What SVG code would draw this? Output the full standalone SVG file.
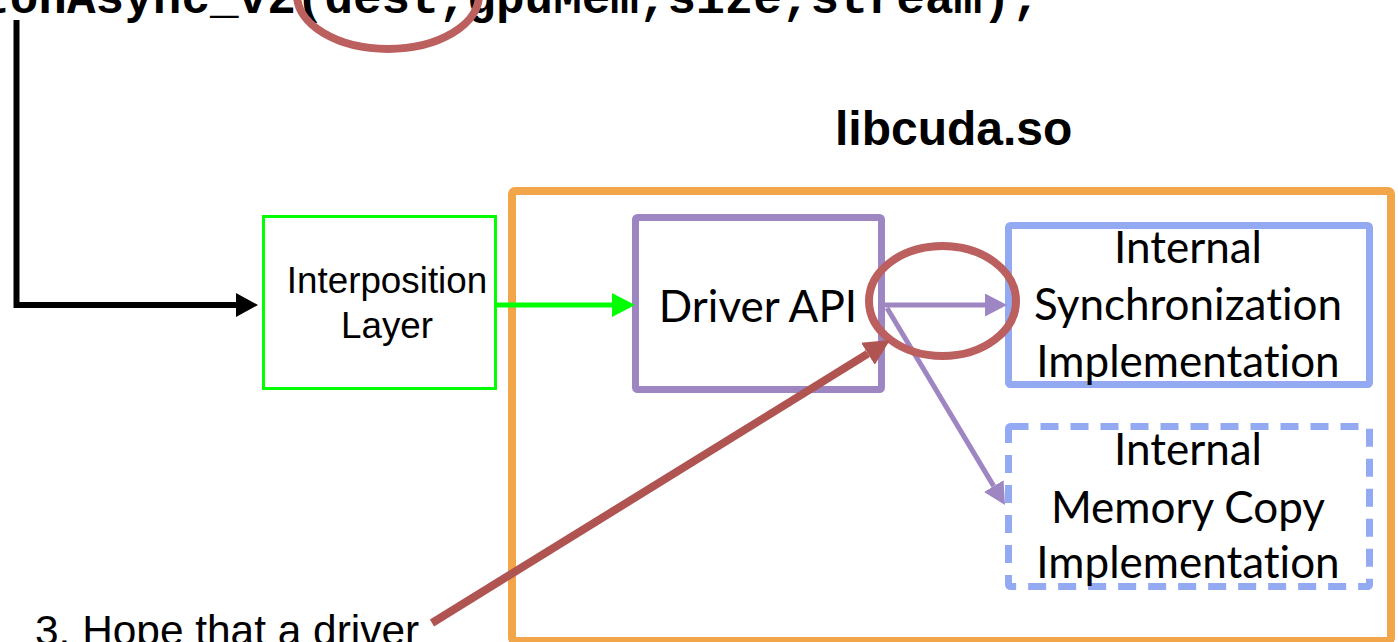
<svg xmlns="http://www.w3.org/2000/svg" width="1398" height="642" viewBox="0 0 1398 642">
  <style>
    .code { font-family: "Liberation Mono", "Courier New", monospace; font-weight: bold; font-size: 47.67px; fill: #000; }
    .sans { font-family: "Liberation Sans", Arial, sans-serif; fill: #000; }
    .humanist { font-family: Lato, "Open Sans", sans-serif; font-size: 44px; fill: #000; text-anchor: middle; font-variant-ligatures: none; }
    .box { fill: #fff; }
    .lib { fill: none; stroke: #F3A54A; stroke-width: 8; }
    .api { stroke: #9E86C2; stroke-width: 7; }
    .impl { stroke: #93A9F2; stroke-width: 7; }
    .dashed { stroke-dasharray: 18 12; }
    .shim { stroke: #00FF00; stroke-width: 3; }
    .note { fill: none; stroke: #BB5F5F; stroke-width: 8; }
  </style>
  <defs>
    <marker id="head-black" markerUnits="userSpaceOnUse" viewBox="0 0 22 24" markerWidth="22" markerHeight="24" refX="0" refY="12" orient="auto">
      <path d="M0,0 L22,12 L0,24 z" fill="#000"/>
    </marker>
    <marker id="head-green" markerUnits="userSpaceOnUse" viewBox="0 0 23 24" markerWidth="23" markerHeight="24" refX="0" refY="12" orient="auto">
      <path d="M0,0 L23,12 L0,24 z" fill="#00FF00"/>
    </marker>
    <marker id="head-purple" markerUnits="userSpaceOnUse" viewBox="0 0 22 23" markerWidth="22" markerHeight="23" refX="0" refY="11.5" orient="auto">
      <path d="M0,0 L22,11.5 L0,23 z" fill="#9E86C2"/>
    </marker>
    <marker id="head-red" markerUnits="userSpaceOnUse" viewBox="0 0 26 26" markerWidth="26" markerHeight="26" refX="0" refY="13" orient="auto">
      <path d="M0,0 L26,13 L0,26 z" fill="#B05452"/>
    </marker>
  </defs>

  <!-- call site, partly above the top edge -->
  <text class="code" x="-276.2" y="13">cuMemcpyDtoHAsync_v2(dest,gpuMem,size,stream);</text>

  <!-- library container -->
  <g id="libcuda">
    <rect class="lib" x="512" y="191" width="879" height="450" rx="3"/>
    <text class="sans" x="835" y="145" font-size="48" font-weight="bold">libcuda.so</text>
  </g>

  <g id="interposition-layer">
    <rect class="box shim" x="263.5" y="216.5" width="232" height="172"/>
    <text class="sans" x="387" y="293" font-size="36.8" text-anchor="middle">Interposition</text>
    <text class="sans" x="387" y="338" font-size="36.8" text-anchor="middle">Layer</text>
  </g>

  <g id="driver-api">
    <rect class="box api" x="635.5" y="217.5" width="246" height="172" rx="2"/>
    <text class="humanist" x="758" y="322">Driver API</text>
  </g>

  <g id="internal-sync">
    <rect class="box impl" x="1008.5" y="225.5" width="361" height="159" rx="2"/>
    <text class="humanist" x="1188" y="263">Internal</text>
    <text class="humanist" x="1188" y="320">Synchronization</text>
    <text class="humanist" x="1188" y="377">Implementation</text>
  </g>

  <g id="internal-memcpy">
    <rect class="box impl dashed" x="1008.5" y="426.5" width="361" height="160" rx="2"/>
    <text class="humanist" x="1188" y="465">Internal</text>
    <text class="humanist" x="1188" y="523">Memory Copy</text>
    <text class="humanist" x="1188" y="578">Implementation</text>
  </g>

  <g id="connectors" fill="none">
    <path d="M16.5,20 V305 H236" stroke="#000" stroke-width="6" marker-end="url(#head-black)"/>
    <path d="M497,305 H612" stroke="#00FF00" stroke-width="5" marker-end="url(#head-green)"/>
    <path d="M885,305 H985" stroke="#9E86C2" stroke-width="5" marker-end="url(#head-purple)"/>
    <path d="M887,308 L993.7,486.1" stroke="#9E86C2" stroke-width="5" marker-end="url(#head-purple)"/>
  </g>

  <!-- annotation -->
  <g id="annotation">
    <ellipse class="note" cx="388" cy="-5" rx="91" ry="54"/>
    <ellipse class="note" cx="942.5" cy="301" rx="73.5" ry="55"/>
    <path d="M432,623 L867.9,353.7" stroke="#B05452" stroke-width="8" fill="none" marker-end="url(#head-red)"/>
    <text class="sans" x="35" y="645" font-size="42.4">3. Hope that a driver</text>
  </g>
</svg>
